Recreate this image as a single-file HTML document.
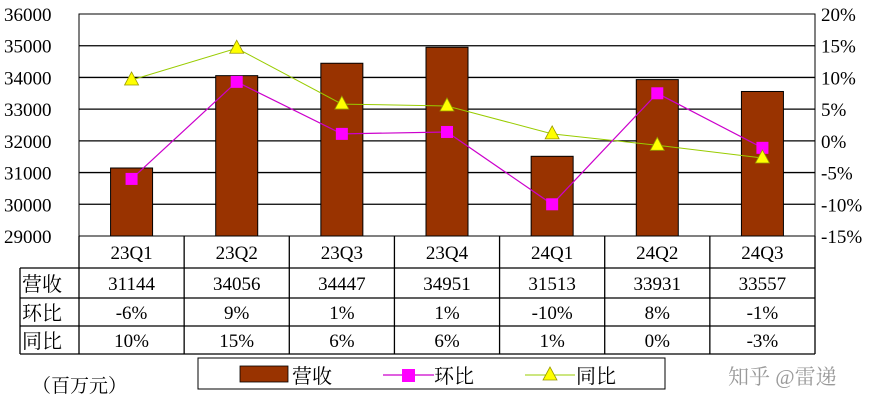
<!DOCTYPE html>
<html><head><meta charset="utf-8"><style>
body{margin:0;background:#fff;}
svg text{font-family:"Liberation Serif","Noto Serif CJK SC",serif;}
</style></head><body>
<svg id="c" width="887" height="412" xmlns="http://www.w3.org/2000/svg"></svg>
<script>
const categories=["23Q1","23Q2","23Q3","23Q4","24Q1","24Q2","24Q3"];
const revenue=[31144,34056,34447,34951,31513,33931,33557];
const qoq=[-6,9.3,1.1,1.4,-10,7.5,-1.1];
const yoy=[9.6,14.6,5.8,5.5,1.1,-0.7,-2.7];
const qoqLabels=["-6%","9%","1%","1%","-10%","8%","-1%"];
const yoyLabels=["10%","15%","6%","6%","1%","0%","-3%"];
const leftTicks=[29000,30000,31000,32000,33000,34000,35000,36000];
const rightTicks=[-15,-10,-5,0,5,10,15,20];

const NS="http://www.w3.org/2000/svg";
const svg=document.getElementById('c');
const X0=79,X1=815,Y0=14,Y1=236;
const cw=(X1-X0)/categories.length;
const yL=v=>Y1-(v-29000)/(36000-29000)*(Y1-Y0);
const yR=v=>Y1-(v+15)/35*(Y1-Y0);
const xC=i=>X0+cw*(i+0.5);
function el(t,a,txt){const e=document.createElementNS(NS,t);for(const k in a)e.setAttribute(k,a[k]);if(txt!==undefined)e.textContent=txt;svg.appendChild(e);return e;}

leftTicks.forEach(v=>{
 if(v>29000&&v<36000){const l=el('line',{x1:X0,x2:X1,y1:yL(v),y2:yL(v),stroke:'#000','stroke-width':1.3});
 
 }
 const t=el('text',{x:4,y:yL(v)+7,'font-size':19,fill:'#000'},String(v));
 
 
});
rightTicks.forEach(v=>{
 const t=el('text',{x:821,y:yR(v)+7,'font-size':19,fill:'#000'},(v<0?'-':'')+Math.abs(v)+'%');
 
 
});
const frame=el('rect',{x:X0,y:Y0,width:X1-X0,height:Y1-Y0,fill:'none',stroke:'#000','stroke-width':1});



revenue.forEach((v,i)=>{
 const r=el('rect',{x:xC(i)-21,y:yL(v),width:42,height:Y1-yL(v),fill:'#993300',stroke:'#000','stroke-width':1});
 
 
});
const yp=el('polyline',{points:yoy.map((v,i)=>xC(i)+','+yR(v)).join(' '),fill:'none',stroke:'#99cc00','stroke-width':1});


const qp=el('polyline',{points:qoq.map((v,i)=>xC(i)+','+yR(v)).join(' '),fill:'none',stroke:'#cc00cc','stroke-width':1.2});


qoq.forEach((v,i)=>{
 const m=el('rect',{x:xC(i)-6,y:yR(v)-6,width:12,height:12,fill:'#ff00ff'});
 
 
});
yoy.forEach((v,i)=>{
 const x=xC(i),y=yR(v);
 const m=el('polygon',{points:`${x},${y-8} ${x-7},${y+5} ${x+7},${y+5}`,fill:'#ffff00',stroke:'#999900','stroke-width':0.8});
 
 
});

// table
const rows=[[236,268],[268,298],[298,326],[326,354]];
const TL=20;
function hl(x1,x2,y){const l=el('line',{x1,x2,y1:y,y2:y,stroke:'#000','stroke-width':1.3});}
function vl(x,y1,y2){const l=el('line',{x1:x,x2:x,y1,y2,stroke:'#000','stroke-width':1.3});}
hl(TL,X1,268);hl(TL,X1,298);hl(TL,X1,326);hl(TL,X1,354);
vl(TL,268,354);
for(let i=0;i<=categories.length;i++)vl(X0+cw*i,236,354);
categories.forEach((c,i)=>{
 const t=el('text',{x:xC(i),y:259,'font-size':19,'text-anchor':'middle'},c);
 
 
});
const rowNames=["营收","环比","同比"];
const rowData=[revenue.map(String),qoqLabels,yoyLabels];
rowNames.forEach((n,r)=>{
 const yy=[291,320,348][r];
 const t=el('text',{x:22,y:yy,'font-size':20},n);
 
 
 rowData[r].forEach((v,i)=>{
  const c=el('text',{x:xC(i),y:yy-1,'font-size':19,'text-anchor':'middle'},v);
  
  
 });
});

// legend
const lg=el('rect',{x:198,y:358,width:467,height:31,fill:'#fff',stroke:'#000','stroke-width':1});


const l1=el('rect',{x:240,y:366,width:48,height:16,fill:'#993300',stroke:'#000','stroke-width':0.8});


const t1=el('text',{x:292,y:383,'font-size':20},'营收');


const l2=el('line',{x1:383,x2:434,y1:375,y2:375,stroke:'#cc00cc','stroke-width':1.2});


const l2m=el('rect',{x:402,y:369,width:13,height:13,fill:'#ff00ff'});


const t2=el('text',{x:434,y:383,'font-size':20},'环比');


const l3=el('line',{x1:525,x2:575,y1:375,y2:375,stroke:'#99cc00','stroke-width':1});


const l3m=el('polygon',{points:'550,367 543,380 557,380',fill:'#ffff00',stroke:'#999900','stroke-width':0.8});


const t3=el('text',{x:576,y:383,'font-size':20},'同比');



const u=el('text',{x:32,y:392,'font-size':19},'（百万元）');


const w=el('text',{x:728,y:384,'font-size':21,fill:'#9a9a9a','font-family':'"Liberation Sans","Noto Sans CJK SC",sans-serif'},'知乎 @雷递');


</script>
</body></html>
